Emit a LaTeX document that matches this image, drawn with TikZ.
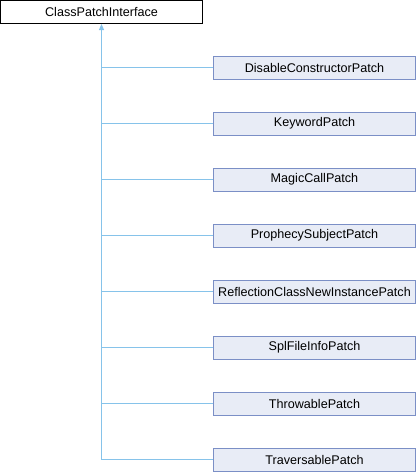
\documentclass[tikz,border=0pt]{standalone}
\usepackage{fontspec}
\setmainfont{Liberation Sans}
\usepackage{xcolor}
\usetikzlibrary{arrows.meta,positioning}
\definecolor{edgeblue}{HTML}{86C3EA}
\definecolor{boxfill}{HTML}{E8ECF6}
\definecolor{boxline}{HTML}{7B8FC6}

\begin{document}
\begin{tikzpicture}[x=1pt,y=-1pt]
				\tikzstyle{basebox}=[rectangle,draw=black,fill=white,line width=1pt,minimum width=202pt,minimum height=23pt,inner sep=0pt,font=\fontsize{12.6}{14}\selectfont]
				\tikzstyle{childbox}=[basebox,draw=boxline,fill=boxfill]
				\tikzstyle{edge}=[draw=edgeblue,line width=1pt]
				\useasboundingbox (0,0) rectangle (416,472);
				\node[basebox] (iface) at (101.5,12) {ClassPatchInterface};
				\foreach \name [count=\i] in {DisableConstructorPatch,KeywordPatch,MagicCallPatch,ProphecySubjectPatch,ReflectionClassNewInstancePatch,SplFileInfoPatch,ThrowablePatch,TraversablePatch}
				{
					\node[childbox] (p\i) at (314.5,{67.5+56*(\i-1)}) {\name};
					\draw[edge] (iface.south |- p\i.west) -- (p\i.west);
				}
				\draw[edge,{Triangle[width=5pt,length=6pt]}-] (iface.south) -- (iface.south |- p8.west);
			\end{tikzpicture}
\end{document}
